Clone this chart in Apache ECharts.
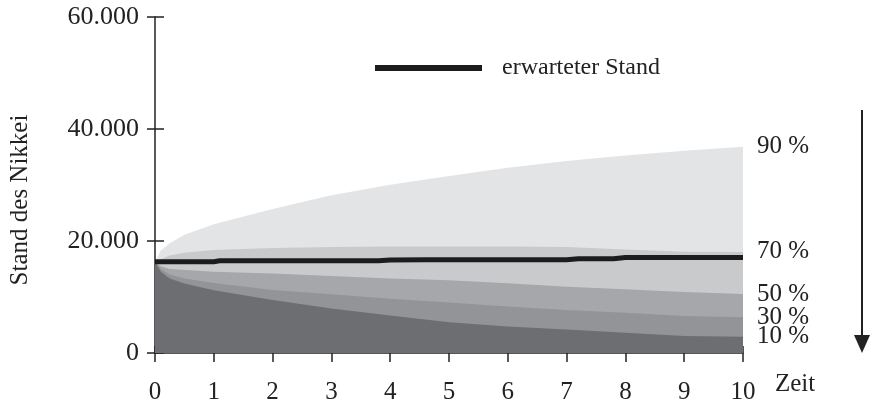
<!DOCTYPE html>
<html>
<head>
<meta charset="utf-8">
<script src="https://cdn.jsdelivr.net/npm/echarts@6/dist/echarts.min.js"></script>
<style>html,body{margin:0;padding:0;background:#fff;}#c{width:872px;height:404px;}</style>
</head>
<body>
<div id="c"></div>
<script>
// ---- data ----
var yTicks = [0, 20000, 40000, 60000];
var xTicks = [0, 1, 2, 3, 4, 5, 6, 7, 8, 9, 10];

var t90 = [0, 0.1, 0.25, 0.5, 1, 2, 3, 4, 5, 6, 7, 8, 9, 10];
var v90 = [16300, 18300, 19600, 21100, 23000, 25700, 28150, 30050, 31600, 33100, 34300, 35250, 36130, 36850];

var t70 = [0, 0.25, 0.5, 1, 2, 3, 4, 5, 6, 7, 8, 9, 10];
var v70 = [16300, 17400, 17900, 18400, 18750, 18950, 19000, 19000, 19000, 18950, 18500, 18100, 18050];

var t50 = [0, 0.1, 0.25, 1, 2, 3, 4, 5, 6, 7, 8, 9, 10];
var v50 = [16300, 15500, 15000, 14500, 14200, 13750, 13300, 13000, 12450, 11850, 11370, 10900, 10540];

var t30 = [0, 0.1, 0.25, 0.5, 1, 2, 3, 4, 5, 6, 7, 8, 9, 10];
var v30 = [16300, 15000, 14000, 13300, 12500, 11250, 10500, 9700, 9000, 8300, 7680, 7200, 6610, 6370];

var t10 = [0, 0.1, 0.25, 0.5, 1, 2, 3, 4, 5, 6, 7, 8, 9, 10];
var v10 = [16300, 14500, 13300, 12400, 11200, 9450, 7950, 6700, 5500, 4750, 4200, 3630, 3040, 2900];

var tExp = [0, 1.0, 1.1, 3.8, 4.0, 4.6, 7.0, 7.2, 7.8, 8.0, 10];
var vExp = [16300, 16300, 16460, 16460, 16600, 16650, 16650, 16850, 16850, 17050, 17050];

var bandNames = ['90 %', '70 %', '50 %', '30 %', '10 %'];
var expName = 'erwarteter Stand';
var yTitle = 'Stand des Nikkei';
var xTitle = 'Zeit';

// ---- chart ----
var FONT = "'Liberation Serif','Times New Roman',serif";
var TXT = '#222';
function pairs(t, v) { return t.map(function (x, i) { return [x, v[i]]; }); }
function fmtY(v) { return v === 0 ? '0' : String(v).replace(/\B(?=(\d{3})+(?!\d))/g, '.'); }

var bandColors = ['#e3e4e6', '#c9cacc', '#a6a7aa', '#939497', '#6d6e72'];
var bandData = [pairs(t90, v90), pairs(t70, v70), pairs(t50, v50), pairs(t30, v30), pairs(t10, v10)];

var series = bandData.map(function (d, i) {
  return {
    name: bandNames[i],
    type: 'line',
    data: d,
    symbol: 'none',
    z: 2 + i,
    lineStyle: { width: 0 },
    areaStyle: { color: bandColors[i], opacity: 1 },
    itemStyle: { color: bandColors[i] },
    silent: true,
    endLabel: {
      show: true,
      formatter: bandNames[i],
      distance: 14,
      fontFamily: FONT,
      fontSize: 25,
      color: TXT
    }
  };
});
series.push({
  name: expName,
  type: 'line',
  data: pairs(tExp, vExp),
  symbol: 'none',
  z: 10,
  lineStyle: { width: 5, color: '#1c1c1c' },
  itemStyle: { color: '#1c1c1c' }
});

var gridPos = { left: 155, right: 129, top: 17, bottom: 51, outerBoundsMode: 'none', containLabel: false };
var axisLine = { show: true, lineStyle: { color: '#222', width: 1.5 } };

var chart = echarts.init(document.getElementById('c'));
chart.setOption({
  animation: false,
  backgroundColor: '#fff',
  grid: gridPos,
  legend: {
    data: [expName],
    left: 370,
    top: 51,
    icon: 'rect',
    itemWidth: 107,
    itemHeight: 6,
    textStyle: { fontFamily: FONT, fontSize: 24, color: TXT, padding: [0, 0, 0, 15] }
  },
  xAxis: [{
    type: 'value', min: 0, max: 10, interval: 1,
    axisLine: axisLine,
    axisTick: { show: true, length: 9, lineStyle: { color: '#222', width: 1.5 } },
    axisLabel: {
      fontFamily: FONT, fontSize: 25, color: TXT, margin: 27,
      formatter: function (v) { return xTicks.indexOf(v) >= 0 ? String(v) : ''; }
    },
    splitLine: { show: false },
    name: xTitle, nameLocation: 'end', nameGap: 32,
    nameTextStyle: { fontFamily: FONT, fontSize: 25, color: TXT, verticalAlign: 'top', padding: [19, 0, 0, 0] }
  }, {
    type: 'value', min: 0, max: 10, interval: 1, position: 'bottom',
    axisLine: { show: false },
    axisTick: { show: true, inside: true, length: 7, lineStyle: { color: '#222', width: 1.5 } },
    axisLabel: { show: false }, splitLine: { show: false }
  }],
  yAxis: [{
    type: 'value', min: 0, max: 60000, interval: 20000,
    axisLine: axisLine,
    axisTick: { show: true, length: 8, lineStyle: { color: '#222', width: 1.5 } },
    axisLabel: {
      fontFamily: FONT, fontSize: 26, color: TXT, margin: 16,
      formatter: function (v) { return yTicks.indexOf(v) >= 0 ? fmtY(v) : ''; }
    },
    splitLine: { show: false },
    name: yTitle, nameLocation: 'middle', nameRotate: 90, nameGap: 122,
    nameTextStyle: { fontFamily: FONT, fontSize: 25, color: TXT, padding: [0, 30, 0, 0] }
  }, {
    type: 'value', min: 0, max: 60000, interval: 20000, position: 'left',
    axisLine: { show: false },
    axisTick: { show: true, inside: true, length: 9, lineStyle: { color: '#222', width: 1.5 } },
    axisLabel: { show: false }, splitLine: { show: false }
  }],
  graphic: [
    { type: 'line', shape: { x1: 862, y1: 110, x2: 862, y2: 338 }, style: { stroke: '#222', lineWidth: 2 } },
    { type: 'polygon', shape: { points: [[854, 335], [870, 335], [862, 353]] }, style: { fill: '#222' } }
  ],
  series: series
});
</script>
</body>
</html>
